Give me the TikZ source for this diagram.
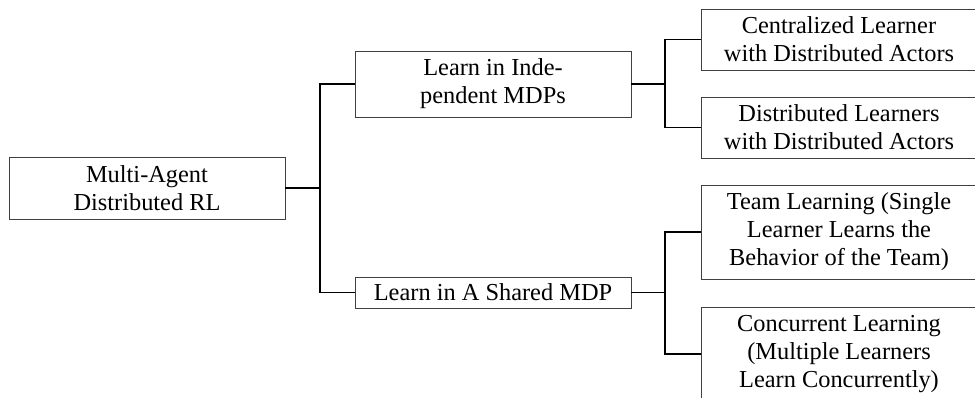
\documentclass[tikz,border=0pt]{standalone}
\usepackage{fontspec}
\setmainfont{Liberation Serif}
\def\pxu{0.4287pt}
\begin{document}
\begin{tikzpicture}[x=\pxu,y=-\pxu,
  box/.style={draw=black!75,line width=0.4pt,rectangle,align=center,inner sep=0pt,
    minimum width=276*\pxu,font=\fontsize{10.45}{12}\selectfont},
  link/.style={draw=black,line width=0.8pt}]
\useasboundingbox (0,0) rectangle (975,398);
\clip (0,0) rectangle (975,398);
\node[box,minimum height=62*\pxu] (root) at (147,188) {Multi-Agent\\Distributed RL};
\node[box,minimum height=66*\pxu] (m1) at (493,84) {Learn in Inde-\\pendent MDPs};
\node[box,minimum height=31*\pxu] (m2) at (493,292.5) {Learn in A Shared MDP};
\node[box,minimum height=61*\pxu] (r1) at (839,39.5) {Centralized Learner\\with Distributed Actors};
\node[box,minimum height=61*\pxu] (r2) at (839,127.5) {Distributed Learners\\with Distributed Actors};
\node[box,minimum height=94*\pxu] (r3) at (839,232) {Team Learning (Single\\Learner Learns the\\Behavior of the Team)};
\node[box,minimum height=94*\pxu] (r4) at (839,354) {Concurrent Learning\\(Multiple Learners\\Learn Concurrently)};
\coordinate (j1) at (320,188);
\coordinate (j2) at (665,84);
\coordinate (j3) at (665,292.5);
\draw[link] (root.east) -- (j1) |- (m1.west);
\draw[link] (j1) |- (m2.west);
\draw[link] (m1.east) -- (j2) |- (r1.west);
\draw[link] (j2) |- (r2.west);
\draw[link] (m2.east) -- (j3) |- (r3.west);
\draw[link] (j3) |- (r4.west);
\end{tikzpicture}
\end{document}
